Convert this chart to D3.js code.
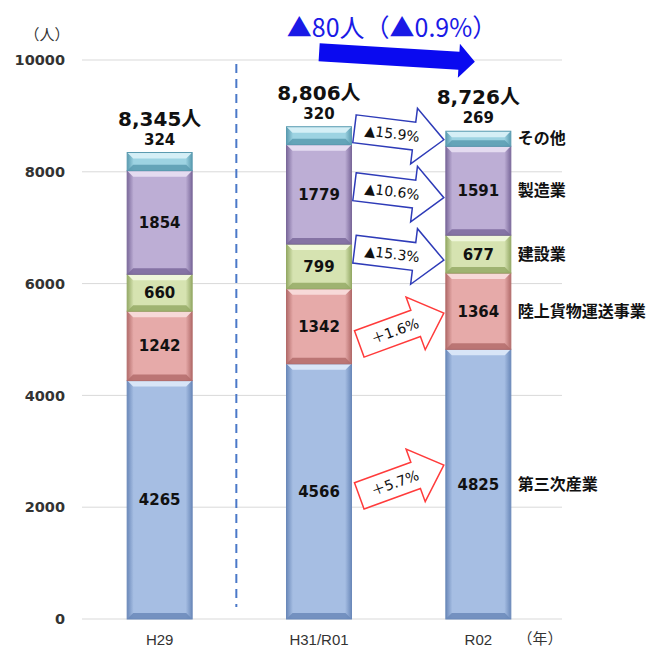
<!DOCTYPE html>
<html>
<head>
<meta charset="utf-8">
<script src="https://cdn.jsdelivr.net/npm/d3@7"></script>
<style>
  body { margin: 0; background: #fff; }
  svg { display: block; }
</style>
</head>
<body>
<div id="chart"></div>
<script>
// data
var years = ["H29", "H31/R01", "R02"];
var sectors = ["第三次産業", "陸上貨物運送事業", "建設業", "製造業", "その他"];
var tertiary = [4265, 4566, 4825];
var freight = [1242, 1342, 1364];
var construction = [660, 799, 677];
var manufacturing = [1854, 1779, 1591];
var others = [324, 320, 269];
var changeLabels = ["＋5.7%", "＋1.6%", "▲15.3%", "▲10.6%", "▲15.9%"];
var totalChangeLabel = "▲80人（▲0.9%）";
var yTicks = [0, 2000, 4000, 6000, 8000, 10000];

var series = [tertiary, freight, construction, manufacturing, others];
var colors = [
  {base: "#a6bee3", light: "#d8e5f7", dark: "#6b89ba"},
  {base: "#e6aaa9", light: "#f7d9d8", dark: "#b36c6b"},
  {base: "#d6e3b1", light: "#eff6da", dark: "#95aa66"},
  {base: "#bdaed5", light: "#e4dbf0", dark: "#7b699b"},
  {base: "#9dd3e2", light: "#d5eff6", dark: "#5a9bb0"}
];

var width = 664, height = 648;
var svg = d3.select("#chart").append("svg")
  .attr("width", width)
  .attr("height", height);

var y = d3.scaleLinear().domain([0, 10000]).range([619, 60]);
var x = d3.scalePoint().domain(years).range([80, 558]).padding(0.5);
var barW = 65;

var table = years.map(function(yr, i) {
  var row = {year: yr};
  sectors.forEach(function(s, k) { row[s] = series[k][i]; });
  return row;
});
var stacked = d3.stack().keys(sectors)(table);

// gridlines
svg.append("g").selectAll("line")
  .data(yTicks)
  .join("line")
  .attr("x1", 82).attr("x2", 562)
  .attr("y1", function(d) { return y(d); })
  .attr("y2", function(d) { return y(d); })
  .attr("stroke", "#d9d9d9")
  .attr("stroke-width", 1);

// y axis labels
var yAxis = svg.append("g")
  .attr("transform", "translate(82,0)")
  .call(d3.axisLeft(y).tickValues(yTicks).tickSize(0).tickPadding(17).tickFormat(d3.format("d")));
yAxis.select(".domain").remove();
yAxis.selectAll("text")
  .style("font-family", "'DejaVu Sans', sans-serif")
  .style("font-size", "14.5px")
  .style("font-weight", "bold")
  .attr("fill", "#333");

svg.append("text")
  .attr("x", 47).attr("y", 40)
  .attr("text-anchor", "middle")
  .style("font-family", "'Noto Sans CJK JP', sans-serif")
  .style("font-size", "15px")
  .attr("fill", "#333")
  .text("（人）");

// x axis labels
svg.append("g").selectAll("text")
  .data(years)
  .join("text")
  .attr("x", function(d) { return x(d); })
  .attr("y", 645)
  .attr("text-anchor", "middle")
  .style("font-family", "'Liberation Sans', Arial, sans-serif")
  .style("font-size", "15px")
  .attr("fill", "#333")
  .text(function(d) { return d; });

svg.append("text")
  .attr("x", 540).attr("y", 644)
  .attr("text-anchor", "middle")
  .style("font-family", "'Noto Sans CJK JP', sans-serif")
  .style("font-size", "15px")
  .attr("fill", "#333")
  .text("（年）");

// dashed separator
svg.append("line")
  .attr("x1", (x(years[0]) + x(years[1])) / 2 - 3)
  .attr("x2", (x(years[0]) + x(years[1])) / 2 - 3)
  .attr("y1", 64).attr("y2", 607)
  .attr("stroke", "#4a78c8")
  .attr("stroke-width", 2)
  .attr("stroke-dasharray", "9,6");

// gradients for bevel sides
var defs = svg.append("defs");
colors.forEach(function(c, k) {
  var g = defs.append("linearGradient").attr("id", "grad" + k)
    .attr("x1", "0").attr("x2", "1").attr("y1", "0").attr("y2", "0");
  g.append("stop").attr("offset", "0%").attr("stop-color", c.dark);
  g.append("stop").attr("offset", "10%").attr("stop-color", c.base);
  g.append("stop").attr("offset", "90%").attr("stop-color", c.base);
  g.append("stop").attr("offset", "100%").attr("stop-color", c.dark);
});

// bars
var b = 6;
stacked.forEach(function(layer, k) {
  var c = colors[k];
  var g = svg.append("g");
  layer.forEach(function(d, i) {
    var x0 = x(years[i]) - barW / 2;
    var y0 = y(d[1]);
    var h = y(d[0]) - y(d[1]);
    var bb = Math.min(b, h / 2);
    g.append("rect")
      .attr("x", x0).attr("y", y0)
      .attr("width", barW).attr("height", h)
      .attr("fill", "url(#grad" + k + ")");
    g.append("polygon")
      .attr("points", [[x0, y0], [x0 + barW, y0], [x0 + barW - bb, y0 + bb], [x0 + bb, y0 + bb]].join(" "))
      .attr("fill", c.light);
    g.append("polygon")
      .attr("points", [[x0, y0 + h], [x0 + barW, y0 + h], [x0 + barW - bb, y0 + h - bb], [x0 + bb, y0 + h - bb]].join(" "))
      .attr("fill", c.dark)
      .attr("opacity", 0.85);
    g.append("rect")
      .attr("x", x0).attr("y", y0)
      .attr("width", barW).attr("height", h)
      .attr("fill", "none")
      .attr("stroke", c.dark)
      .attr("stroke-width", 1);
  });
});

// values inside segments (not for the thin top one)
stacked.slice(0, 4).forEach(function(layer) {
  svg.append("g").selectAll("text")
    .data(layer)
    .join("text")
    .attr("x", function(d, i) { return x(years[i]); })
    .attr("y", function(d) { return y((d[0] + d[1]) / 2); })
    .attr("dy", "0.36em")
    .attr("text-anchor", "middle")
    .style("font-family", "'DejaVu Sans', sans-serif")
    .style("font-size", "15px")
    .style("font-weight", "bold")
    .attr("fill", "#111")
    .text(function(d) { return d[1] - d[0]; });
});

// top segment values + totals above bars
var topLayer = stacked[stacked.length - 1];
svg.append("g").selectAll("text")
  .data(topLayer)
  .join("text")
  .attr("x", function(d, i) { return x(years[i]); })
  .attr("y", function(d) { return y(d[1]) - 8; })
  .attr("text-anchor", "middle")
  .style("font-family", "'DejaVu Sans', sans-serif")
  .style("font-size", "15px")
  .style("font-weight", "bold")
  .attr("fill", "#111")
  .text(function(d) { return d[1] - d[0]; });

svg.append("g").selectAll("text")
  .data(topLayer)
  .join("text")
  .attr("x", function(d, i) { return x(years[i]); })
  .attr("y", function(d) { return y(d[1]) - 27; })
  .attr("text-anchor", "middle")
  .style("font-family", "'DejaVu Sans', 'Noto Sans CJK JP', sans-serif")
  .style("font-size", "20px")
  .style("font-weight", "bold")
  .attr("fill", "#111")
  .text(function(d) { return d3.format(",")(d[1]) + "人"; });

// sector names to the right of last bar
var last = years.length - 1;
svg.append("g").selectAll("text")
  .data(stacked)
  .join("text")
  .attr("x", x(years[last]) + barW / 2 + 7)
  .attr("y", function(layer) { return y((layer[last][0] + layer[last][1]) / 2); })
  .attr("dy", "0.36em")
  .style("font-family", "'Noto Sans CJK JP', sans-serif")
  .style("font-size", "16px")
  .style("font-weight", "bold")
  .attr("fill", "#111")
  .text(function(layer) { return layer.key; });

// change arrows between H31/R01 and R02
function arrowPath(len, bodyH, headH, headL) {
  var h = len / 2;
  return "M" + (-h) + "," + (-bodyH) +
    " L" + (h - headL) + "," + (-bodyH) +
    " L" + (h - headL) + "," + (-headH) +
    " L" + h + ",0" +
    " L" + (h - headL) + "," + headH +
    " L" + (h - headL) + "," + bodyH +
    " L" + (-h) + "," + bodyH + " Z";
}

var arrowShift = [-19, 2, 6, 7, 1];
stacked.forEach(function(layer, k) {
  var up = changeLabels[k].charAt(0) === "＋";
  var ang = up ? -20 : 7;
  var rad = ang * Math.PI / 180;
  var tipX = x(years[last]) - barW / 2 - 2;
  var tipY = y((layer[last][0] + layer[last][1]) / 2) + arrowShift[k];
  var cx = tipX - 45 * Math.cos(rad);
  var cy = tipY - 45 * Math.sin(rad);
  var g = svg.append("g")
    .attr("transform", "translate(" + cx + "," + cy + ") rotate(" + ang + ")");
  g.append("path")
    .attr("d", arrowPath(90, 14, 28, 30))
    .attr("fill", "#fff")
    .attr("stroke", up ? "#ff3b3b" : "#2e3bb8")
    .attr("stroke-width", 1.5);
  g.append("text")
    .attr("x", -7).attr("y", 0)
    .attr("dy", "0.36em")
    .attr("text-anchor", "middle")
    .style("font-family", "'DejaVu Sans', 'Noto Sans CJK JP', sans-serif")
    .style("font-size", "14px")
    .attr("fill", "#111")
    .text(changeLabels[k]);
});

// overall change arrow at top
svg.append("path")
  .attr("transform", "translate(397,57) rotate(3.5)")
  .attr("d", arrowPath(156, 9, 17, 16))
  .attr("fill", "#0a0af0");

svg.append("text")
  .attr("x", 392).attr("y", 37)
  .attr("text-anchor", "middle")
  .style("font-family", "'Noto Sans CJK JP', sans-serif")
  .style("font-size", "25px")
  .attr("fill", "#1a1ae6")
  .text(totalChangeLabel);
</script>
</body>
</html>
